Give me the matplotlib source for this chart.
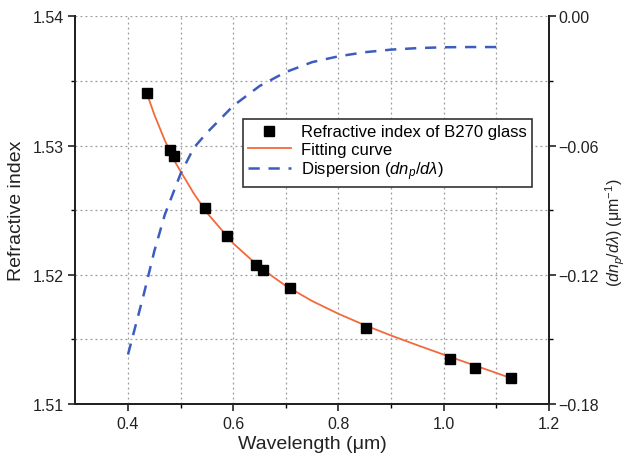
import matplotlib
matplotlib.use("Agg")
import matplotlib.pyplot as plt
from matplotlib.ticker import FixedLocator, FuncFormatter

plt.rcParams['font.family'] = ['Liberation Sans', 'DejaVu Sans']
plt.rcParams['mathtext.fontset'] = 'custom'
plt.rcParams['mathtext.rm'] = 'Liberation Sans'
plt.rcParams['mathtext.it'] = 'Liberation Sans:italic'

# measured refractive index of B270 glass
wl_meas = [0.437, 0.479, 0.487, 0.547, 0.588, 0.644, 0.657, 0.707, 0.8525, 1.0126, 1.0602, 1.1276]
n_meas = [1.53405, 1.5297, 1.5292, 1.5252, 1.5230, 1.52075, 1.52035, 1.5190, 1.5159, 1.51347, 1.5128, 1.5120]

# fitting curve
wl_fit = [0.437, 0.45, 0.46, 0.47, 0.49, 0.50, 0.525, 0.55, 0.60, 0.65, 0.70, 0.75, 0.80, 0.85, 0.90,
          0.95, 1.00, 1.05, 1.10, 1.128]
n_fit = [1.5339, 1.5324, 1.5314, 1.5304, 1.5287, 1.5280, 1.5263, 1.5248, 1.52243, 1.52059, 1.51914,
         1.51797, 1.51698, 1.5161, 1.5153, 1.51455, 1.51382, 1.51311, 1.5124, 1.5120]

# dispersion curve
wl_disp = [0.40, 0.43, 0.45, 0.47, 0.50, 0.525, 0.55, 0.60, 0.65, 0.70, 0.75, 0.80, 0.85, 0.90, 0.95, 1.00, 1.05, 1.10]
disp = [-0.157, -0.129, -0.109, -0.092, -0.073, -0.061, -0.054, -0.0415, -0.0323, -0.0258, -0.0212, -0.0185,
        -0.0166, -0.0154, -0.0147, -0.0143, -0.0142, -0.0142]

# ticks
x_major = [0.4, 0.6, 0.8, 1.0, 1.2]
x_minor = [0.5, 0.7, 0.9, 1.1]
y_major = [1.51, 1.52, 1.53, 1.54]
y_minor = [1.515, 1.525, 1.535]
y2_major = [-0.18, -0.12, -0.06, 0.0]
y2_minor = [-0.15, -0.09, -0.03]

fig = plt.figure(figsize=(6.31, 4.60), dpi=100)
ax = fig.add_axes([0.1195, 0.1196, 0.7505, 0.8424])
ax2 = ax.twinx()

ax.set_xlim(0.3, 1.2)
ax.set_ylim(1.51, 1.54)
ax2.set_ylim(-0.18, 0.0)

ax.xaxis.set_major_locator(FixedLocator(x_major))
ax.xaxis.set_minor_locator(FixedLocator(x_minor))
ax.yaxis.set_major_locator(FixedLocator(y_major))
ax.yaxis.set_minor_locator(FixedLocator(y_minor))
ax2.yaxis.set_major_locator(FixedLocator(y2_major))
ax2.yaxis.set_minor_locator(FixedLocator(y2_minor))

ax.xaxis.set_major_formatter(FuncFormatter(lambda v, p: f'{v:.1f}'))
ax.yaxis.set_major_formatter(FuncFormatter(lambda v, p: f'{v:.2f}'))
ax2.yaxis.set_major_formatter(FuncFormatter(lambda v, p: '0.00' if abs(v) < 1e-9 else f'\u2212{abs(v):.2f}'))

for a in (ax, ax2):
    a.tick_params(which='major', direction='out', length=5, width=1.2, labelsize=11.5, colors='#222222')
    a.tick_params(which='minor', direction='out', length=3, width=1.0)
    for s in a.spines.values():
        s.set_linewidth(1.4)
        s.set_color('#222222')
    a.spines['top'].set_visible(False)
ax2.tick_params(which='major', pad=2)

ax.grid(True, which='both', linestyle=(0, (1.5, 2.5)), color='#9a9a9a', linewidth=0.9)

l1, = ax.plot(wl_meas, n_meas, linestyle='none', marker='s', markersize=6.5, color='black',
              label='Refractive index of B270 glass', zorder=5)
l2, = ax.plot(wl_fit, n_fit, color='#f26a3c', linewidth=1.3, label='Fitting curve', zorder=4)
l3, = ax2.plot(wl_disp, disp, color='#3d5cc0', linewidth=1.8, linestyle=(0, (4.5, 3.5)),
               label=r'Dispersion ($\mathit{dn_p}/\mathit{d\lambda}$)')

ax.set_xlabel('Wavelength (\u03bcm)', fontsize=14, color='#222222', labelpad=3)
ax.set_ylabel('Refractive index', fontsize=14, color='#222222', labelpad=5)
ax2.set_ylabel(r'($\mathit{dn_p}/\mathit{d\lambda}$) (μm$^{-1}$)', fontsize=11.5, color='#222222', labelpad=3)
ax2.yaxis.label.set_y(0.444)

leg = ax2.legend(handles=[l1, l2, l3], loc='upper right', bbox_to_anchor=(0.981, 0.756),
                 fontsize=12, frameon=True, fancybox=False, framealpha=1, edgecolor='#333333',
                 handlelength=2.6, borderpad=0.3, labelspacing=0.15, handletextpad=0.6)
leg.get_frame().set_linewidth(1.2)

fig.savefig('out.png', dpi=100)
